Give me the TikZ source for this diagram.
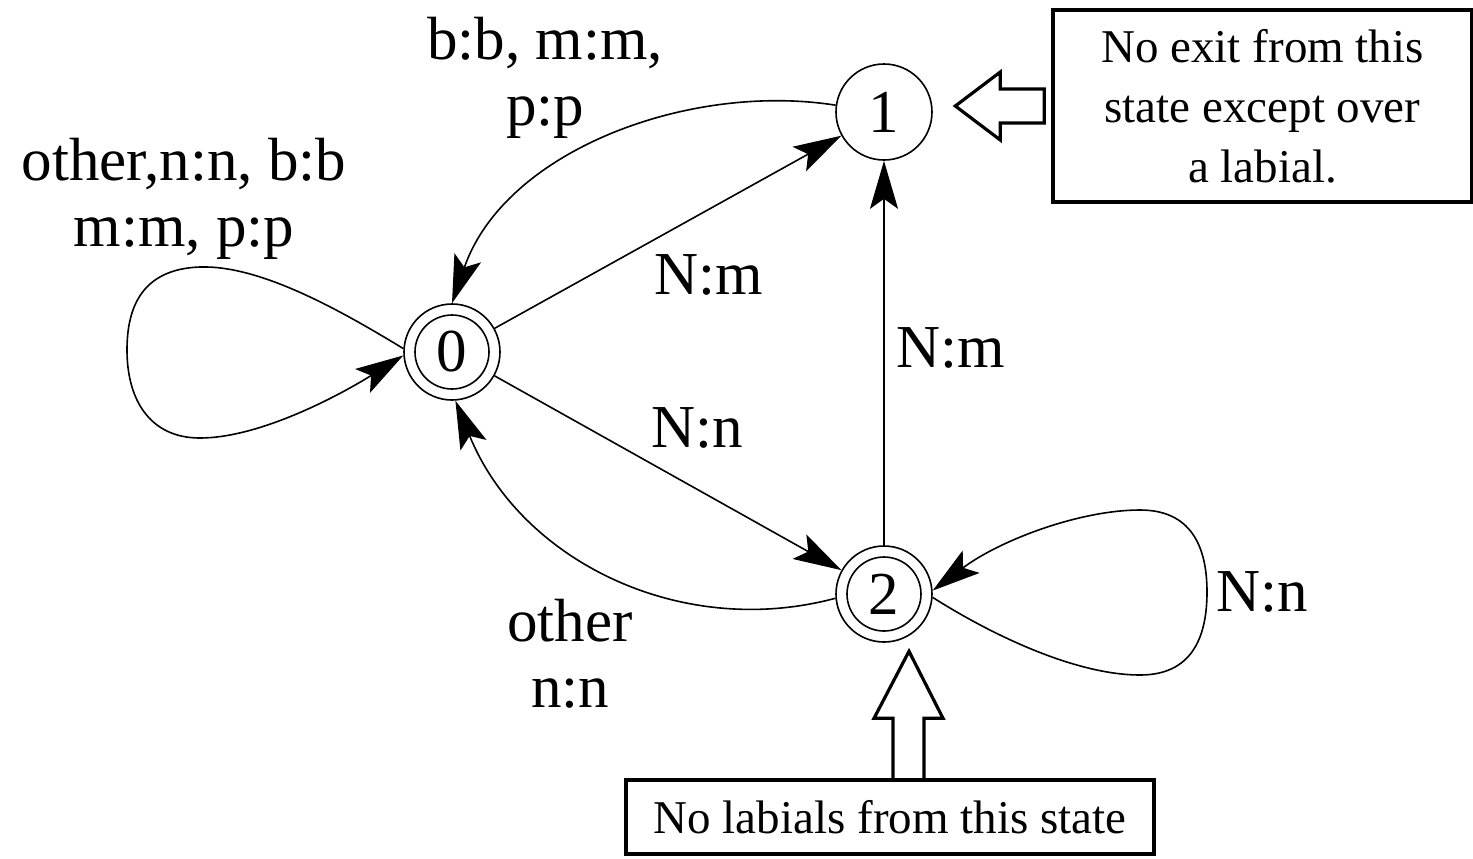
\documentclass[tikz,border=0pt]{standalone}
\usepackage{fontspec}
\setmainfont{Liberation Serif}
\usetikzlibrary{arrows.meta}

\begin{document}
\begin{tikzpicture}[x=0.5pt, y=-0.5pt,
    state/.style={circle, draw, line width=0.8pt, minimum size=48pt, inner sep=0pt,
                  font=\fontsize{30.5}{33}\selectfont},
    accepting/.style={path picture={\draw[line width=0.8pt]
                  (path picture bounding box.center) circle (18.5pt);}},
    trans/.style={line width=0.8pt, -{Stealth[length=24pt, width=14pt, inset=5pt]}},
    lbl/.style={align=center, inner sep=0pt, font=\fontsize{30.5}{33}\selectfont},
    note/.style={draw, line width=1.7pt, align=center, inner sep=0pt,
                 font=\fontsize{23.5}{30}\selectfont},
    blockarrow/.style={draw, line width=1.6pt, line join=miter}]
    \useasboundingbox (0,0) rectangle (1473,858);

    % Draw states
    \node[state, accepting] (s0) at (452,352) {0};
    \node[state] (s1) at (884,112) {1};
    \node[state, accepting] (s2) at (884,594) {2};

    % Draw transitions between states
    \draw[trans] (s0) -- (s1);
    \draw[trans] (s0) -- (s2);
    \draw[trans] (s2) -- (s1);
    \draw[trans] (s1.172) .. controls (690,82) and (505,150) .. (s0.north);
    \draw[trans] (s2.185) .. controls (680,640) and (520,560) .. (s0.-86);

    % Draw self loops
    \draw[trans] (s0.176) .. controls (340,310) and (260,265) .. (200,267)
        .. controls (140,269) and (127,310) .. (127,350)
        .. controls (127,400) and (150,438) .. (200,438)
        .. controls (260,438) and (340,395) .. (s0.184);
    \draw[trans] (s2.-4) .. controls (1000,640) and (1080,675) .. (1140,675)
        .. controls (1190,675) and (1207,640) .. (1207,592)
        .. controls (1207,545) and (1190,510) .. (1140,510)
        .. controls (1080,510) and (1000,540) .. (s2.4);

    % Draw transition labels
    \node[lbl] (lab10) at (545,78) {b:b, m:m,\\p:p};
    \node[lbl] (lab00) at (184,199) {other,n:n, b:b\\m:m, p:p};
    \node[lbl] (lab01) at (709,275) {N:m};
    \node[lbl] (lab21) at (951,348) {N:m};
    \node[lbl] (lab02) at (697,428) {N:n};
    \node[lbl] (lab20) at (570,654) {other\\n:n};
    \node[lbl] (lab22) at (1262,592) {N:n};

    % Draw notes
    \node[note, minimum width=209.5pt, minimum height=96pt] (note1) at (1262.5,106)
        {No exit from this\\state except over\\a labial.};
    \node[note, minimum width=264pt, minimum height=37pt] (note2) at (890,817)
        {No labials from this state};

    % Draw block arrows from notes to states
    \draw[blockarrow] ([xshift=-3.5pt]note1.west) -- ++(0,-17) -- ++(-44,0) -- ++(0,-17)
        -- ++(-45,34) -- ++(45,34) -- ++(0,-17) -- ++(44,0) -- cycle;
    \draw[blockarrow] ([xshift=1.5pt]note2.north) -- ++(0,-60) -- ++(-19,0) -- ++(35,-67)
        -- ++(34,67) -- ++(-19,0) -- ++(0,60);
\end{tikzpicture}
\end{document}
